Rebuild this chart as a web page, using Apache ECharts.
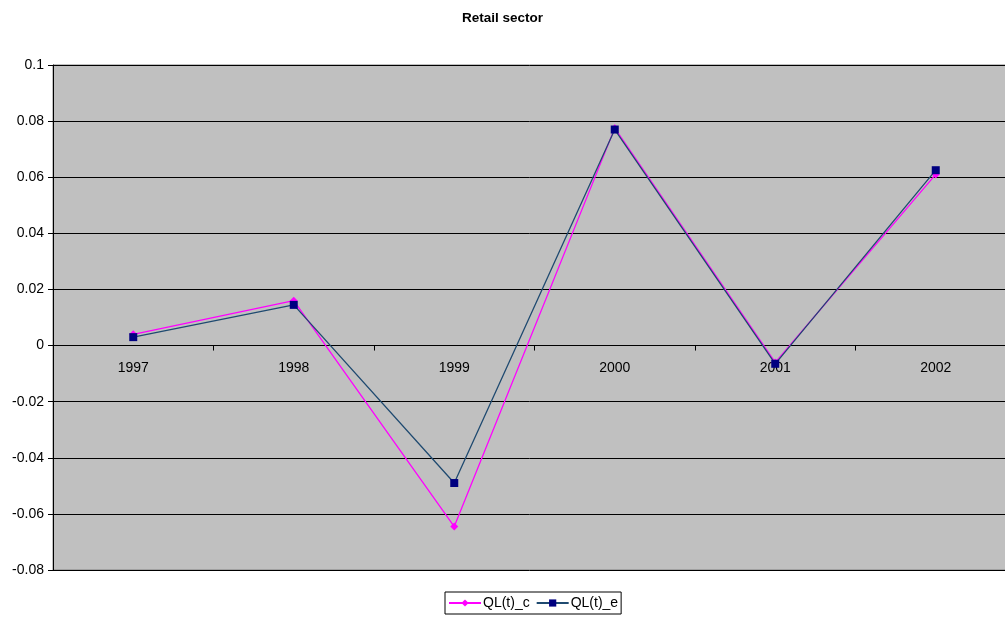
<!DOCTYPE html>
<html>
<head>
<meta charset="utf-8">
<script src="https://cdn.jsdelivr.net/npm/echarts@6/dist/echarts.min.js"></script>
<style>
  html, body { margin: 0; padding: 0; background: #fff; }
  #chart { width: 1005px; height: 620px; }
</style>
</head>
<body>
<div id="chart"></div>
<script>
// Retail sector: QL(t) computed vs estimated, 1997-2002
const years = ['1997', '1998', '1999', '2000', '2001', '2002'];
const qlC = [0.004, 0.016, -0.0645, 0.0775, -0.006, 0.061];
const qlE = [0.003, 0.0145, -0.049, 0.077, -0.0065, 0.0625];
const yTicks = { min: -0.08, max: 0.1, step: 0.02 };

const chart = echarts.init(document.getElementById('chart'));
const font = 'Liberation Sans, Arial, sans-serif';

// plot box; the category band runs a little past the right edge of the canvas
const plot = { left: 53, top: 65, width: 963, height: 505 };
// shift the category axis up so it sits on the zero line
const zeroOffset = -plot.height * (0 - yTicks.min) / (yTicks.max - yTicks.min);

chart.setOption({
  animation: false,
  backgroundColor: '#ffffff',
  title: {
    text: 'Retail sector',
    left: 'center',
    top: 6,
    textStyle: { fontFamily: font, fontSize: 13.5, fontWeight: 'bold', color: '#000' }
  },
  grid: {
    left: plot.left, top: plot.top, width: plot.width, height: plot.height,
    outerBoundsMode: 'none',
    containLabel: false,
    show: true,
    backgroundColor: '#c0c0c0',
    borderColor: '#808080',
    borderWidth: 1
  },
  legend: {
    top: 592,
    left: 445,
    orient: 'horizontal',
    borderColor: '#000',
    borderWidth: 1,
    padding: [4, 3, 4, 3],
    itemGap: 6,
    itemWidth: 32,
    itemHeight: 9,
    textStyle: { fontFamily: font, fontSize: 14, color: '#000', padding: [0, 0, 0, -3] },
    data: ['QL(t)_c', 'QL(t)_e']
  },
  xAxis: {
    type: 'category',
    data: years,
    boundaryGap: true,
    position: 'bottom',
    offset: zeroOffset,
    axisLine: { onZero: false, lineStyle: { color: '#000', width: 1 } },
    axisTick: { show: true, inside: false, length: 5, lineStyle: { color: '#000' } },
    axisLabel: { fontFamily: font, fontSize: 14, color: '#000', margin: 16 },
    splitLine: { show: false }
  },
  yAxis: {
    type: 'value',
    min: yTicks.min,
    max: yTicks.max,
    interval: yTicks.step,
    axisLine: { show: true, lineStyle: { color: '#000', width: 1 } },
    axisTick: { show: true, length: 5, lineStyle: { color: '#000' } },
    axisLabel: {
      fontFamily: font, fontSize: 14, color: '#000', margin: 9,
      formatter: v => String(parseFloat(v.toFixed(2)))
    },
    splitLine: { show: true, lineStyle: { color: '#000', width: 1 } }
  },
  series: [
    {
      name: 'QL(t)_c',
      type: 'line',
      data: qlC,
      symbol: 'diamond',
      symbolSize: 8,
      itemStyle: { color: '#ff00ff' },
      lineStyle: { color: '#ff00ff', width: 1.3 },
      z: 2
    },
    {
      name: 'QL(t)_e',
      type: 'line',
      data: qlE,
      symbol: 'rect',
      symbolSize: 8,
      itemStyle: { color: '#000080' },
      lineStyle: { color: '#1f4a70', width: 1.3 },
      z: 3
    }
  ]
});
</script>
</body>
</html>
